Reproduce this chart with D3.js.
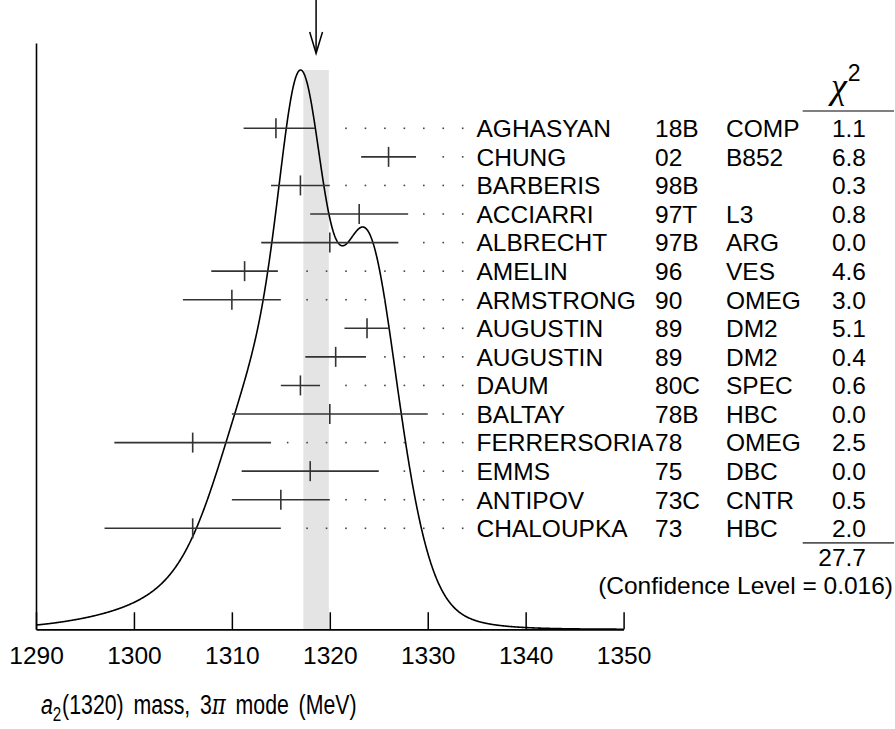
<!DOCTYPE html>
<html>
<head>
<meta charset="utf-8">
<script src="https://cdn.jsdelivr.net/npm/d3@7"></script>
<style>
  html, body { margin: 0; padding: 0; background: #fff; }
  svg { display: block; }
  text { font-family: "Liberation Sans", Arial, Helvetica, sans-serif; fill: #000; }
</style>
</head>
<body>
<svg id="chart" width="895" height="729"></svg>
<script>
// ---- data ----
const names = ["AGHASYAN","CHUNG","BARBERIS","ACCIARRI","ALBRECHT","AMELIN","ARMSTRONG","AUGUSTIN","AUGUSTIN","DAUM","BALTAY","FERRERSORIA","EMMS","ANTIPOV","CHALOUPKA"];
const years = ["18B","02","98B","97T","97B","96","90","89","89","80C","78B","78","75","73C","73"];
const experiments = ["COMP","B852","","L3","ARG","VES","OMEG","DM2","DM2","SPEC","HBC","OMEG","DBC","CNTR","HBC"];
const chi2 = ["1.1","6.8","0.3","0.8","0.0","4.6","3.0","5.1","0.4","0.6","0.0","2.5","0.0","0.5","2.0"];
const masses = [1314.5,1326,1317,1323,1320,1311.3,1310,1323.8,1320.6,1317,1320,1306,1318,1315,1306];
const errLow = [3.3,2.8,3,5,7,3.4,5,2.3,3.1,2,10,8,7,5,9];
const errHigh = [4.0,2.8,3,5,7,3.4,5,2.3,3.1,2,10,8,7,5,9];
const chi2Total = "27.7";
const confidenceLevel = "0.016";
const average = 1318.6;
const averageErr = 1.3;
const xTicks = [1290,1300,1310,1320,1330,1340,1350];
const xTitle = { sym: "a", sub: "2", rest1: "(1320) mass, 3", pi: "\u03C0", rest2: " mode (MeV)" };

// ---- layout ----
const svg = d3.select("#chart");
const axisY = 629.3, curveTop = 70, axisTop = 43;
const x = d3.scaleLinear().domain([1290, 1350]).range([36, 623.6]);
const yRow = d3.scalePoint().domain(d3.range(names.length)).range([128.3, 528.3]);
const colName = 476.5, colYear = 655, colExp = 726, colChi = 866;
const FS = 24.5;

// shaded band (average +- error)
svg.append("rect")
  .attr("x", x(average - averageErr)).attr("width", x(average + averageErr) - x(average - averageErr))
  .attr("y", curveTop).attr("height", axisY - curveTop)
  .attr("fill", "#e4e4e4");

// ideogram: sum of gaussians, area ~ 1/sigma
function ideo(v) {
  let s = 0;
  masses.forEach((m, i) => {
    const sAvg = (errLow[i] + errHigh[i]) / 2;
    const sg = v < m ? errLow[i] : errHigh[i];
    s += Math.exp(-0.5 * ((v - m) / sg) ** 2) / (sAvg * sAvg);
  });
  return s;
}
const samples = d3.range(1290, 1350.001, 0.05).map(v => [v, ideo(v)]);
const yCurve = d3.scaleLinear().domain([0, d3.max(samples, d => d[1])]).range([axisY, curveTop]);
svg.append("path")
  .attr("d", d3.line().x(d => x(d[0])).y(d => yCurve(d[1])).curve(d3.curveLinear)(samples))
  .attr("fill", "none").attr("stroke", "#000").attr("stroke-width", 1.6);

// x axis (ticks pointing up)
const gx = svg.append("g").attr("transform", `translate(0,${axisY})`)
  .call(d3.axisBottom(x).tickValues(xTicks).tickFormat(d3.format("d"))
        .tickSizeInner(-17).tickSizeOuter(0).tickPadding(17));
gx.select(".domain").attr("stroke", "#000").attr("stroke-width", 1.8);
gx.selectAll(".tick line").attr("stroke", "#000").attr("stroke-width", 1.5);
gx.selectAll(".tick text").attr("font-size", FS).attr("font-family", "Liberation Sans, Arial, sans-serif").attr("fill", "#000");

// left axis line
const yLeft = d3.scaleLinear().domain([0, 1]).range([axisY, axisTop]);
const gy = svg.append("g").attr("transform", `translate(${x(1290)},0)`)
  .call(d3.axisLeft(yLeft).tickValues([]).tickSizeOuter(0));
gy.select(".domain").attr("stroke", "#000").attr("stroke-width", 1.6);

// arrow at the average
const ax = x(average);
svg.append("line").attr("x1", ax).attr("x2", ax).attr("y1", 0).attr("y2", 53)
  .attr("stroke", "#000").attr("stroke-width", 1.5);
svg.append("path")
  .attr("d", `M${ax - 6.4},32 L${ax},53.3 L${ax + 6.4},32`)
  .attr("fill", "none").attr("stroke", "#000").attr("stroke-width", 1.5);

// dotted leaders
const dotStep = 19.45, dotStart = colName - 13.8;
const rows = svg.append("g");
names.forEach((n, i) => {
  const yy = yRow(i);
  const hiPx = x(masses[i] + errHigh[i]);
  for (let k = 0; k < 40; k++) {
    const dx = dotStart - k * dotStep;
    if (dx < hiPx + 13.5) break;
    rows.append("rect").attr("x", dx - 0.8).attr("y", yy - 0.8).attr("width", 1.6).attr("height", 1.6)
      .attr("fill", "#444");
  }
  // error bar
  rows.append("line").attr("x1", x(masses[i] - errLow[i])).attr("x2", hiPx)
    .attr("y1", yy).attr("y2", yy).attr("stroke", "#333").attr("stroke-width", 1.6);
  rows.append("line").attr("x1", x(masses[i])).attr("x2", x(masses[i]))
    .attr("y1", yy - 10).attr("y2", yy + 10).attr("stroke", "#333").attr("stroke-width", 1.6);
  // labels
  const by = yy + 8.8;
  rows.append("text").attr("x", colName).attr("y", by).attr("font-size", FS).text(n);
  rows.append("text").attr("x", colYear).attr("y", by).attr("font-size", FS).text(years[i]);
  rows.append("text").attr("x", colExp).attr("y", by).attr("font-size", FS).text(experiments[i]);
  rows.append("text").attr("x", colChi).attr("y", by).attr("font-size", FS).attr("text-anchor", "end").text(chi2[i]);
});

// chi2 header
const hdr = svg.append("text").attr("x", 831).attr("y", 98);
hdr.append("tspan").attr("font-family", "Liberation Serif, DejaVu Serif, serif").attr("font-style", "italic")
  .attr("font-size", 36).text("\u03C7");
hdr.append("tspan").attr("font-size", 23).attr("dy", -17).attr("dx", 1).text("2");
svg.append("line").attr("x1", 802.7).attr("x2", 894).attr("y1", 111).attr("y2", 111)
  .attr("stroke", "#7f7f7f").attr("stroke-width", 2);

// total
const lastY = yRow(names.length - 1);
svg.append("line").attr("x1", 802.7).attr("x2", 894).attr("y1", lastY + 14.5).attr("y2", lastY + 14.5)
  .attr("stroke", "#555").attr("stroke-width", 1.8);
svg.append("text").attr("x", colChi).attr("y", lastY + 28.6 + 8.8).attr("font-size", FS)
  .attr("text-anchor", "end").text(chi2Total);
svg.append("text").attr("x", 893).attr("y", lastY + 57.2 + 8.8).attr("font-size", FS)
  .attr("text-anchor", "end").text(`(Confidence Level = ${confidenceLevel})`);

// x title (fitted to the reference width, keeping glyph height)
const tg = svg.append("g");
const t = tg.append("text").attr("x", 0).attr("y", 0).attr("font-size", 28)
  .attr("font-family", "Liberation Sans Narrow, Liberation Sans, Arial, sans-serif")
  .attr("word-spacing", 5);
t.append("tspan").attr("font-style", "italic").text(xTitle.sym);
t.append("tspan").attr("font-size", 20).attr("dy", 7).text(xTitle.sub);
t.append("tspan").attr("dy", -7).attr("dx", 1).text(xTitle.rest1);
t.append("tspan").attr("font-style", "italic").attr("font-family", "DejaVu Serif, serif").text(xTitle.pi);
t.append("tspan").text(xTitle.rest2);
const w = t.node().getComputedTextLength();
const sx = 315 / w;
tg.attr("transform", `translate(41,714) scale(${sx},1)`);
</script>
</body>
</html>
